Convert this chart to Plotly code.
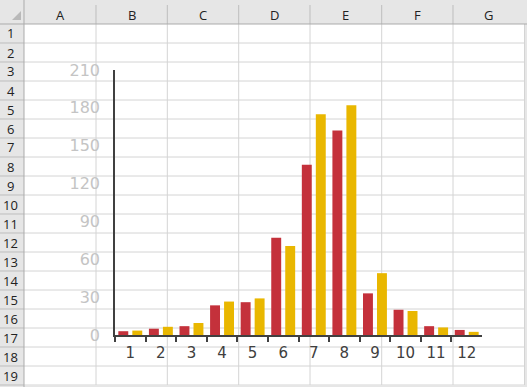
import plotly.graph_objects as go

W, H = 527, 387

categories = ["1", "2", "3", "4", "5", "6", "7", "8", "9", "10", "11", "12"]
series_red = [3, 5, 7, 23.5, 26, 77, 135, 162, 33, 20, 7, 4]
series_yellow = [3.5, 6.5, 9.5, 26.5, 29, 70.5, 175, 182, 49, 19, 6, 2.5]
y_ticks = [0, 30, 60, 90, 120, 150, 180, 210]

col_labels = ["A", "B", "C", "D", "E", "F", "G"]
row_labels = [str(i) for i in range(1, 20)]

RED = "#c4313b"
YELLOW = "#e9b700"


def px(x):
    return x / W


def py(y):
    return 1 - y / H


fig = go.Figure()
fig.add_trace(go.Bar(x=categories, y=series_red, marker=dict(color=RED, line=dict(width=0)),
                     hoverinfo="skip"))
fig.add_trace(go.Bar(x=categories, y=series_yellow, marker=dict(color=YELLOW, line=dict(width=0)),
                     hoverinfo="skip"))

shapes = []
annotations = []

# Spreadsheet background
col_edges = [24, 96, 167.3, 238.7, 310, 381.7, 453, 524.5]
row_top = 24
row_h = 19
grid_color = "#d4d4d4"

for x in col_edges[1:]:
    shapes.append(dict(type="line", xref="paper", yref="paper", x0=px(x), x1=px(x),
                       y0=py(row_top), y1=py(row_top + 19 * row_h),
                       line=dict(color=grid_color, width=1), layer="below"))
for k in range(1, 20):
    y = row_top + k * row_h
    shapes.append(dict(type="line", xref="paper", yref="paper", x0=px(24), x1=px(col_edges[-1]),
                       y0=py(y), y1=py(y), line=dict(color=grid_color, width=1), layer="below"))

# Headers
hdr_fill = "#e6e6e6"
shapes.append(dict(type="rect", xref="paper", yref="paper", x0=0, x1=1, y0=py(24), y1=1,
                   fillcolor=hdr_fill, line=dict(width=0), layer="below"))
shapes.append(dict(type="rect", xref="paper", yref="paper", x0=0, x1=px(24), y0=0, y1=py(24),
                   fillcolor=hdr_fill, line=dict(width=0), layer="below"))
shapes.append(dict(type="rect", xref="paper", yref="paper", x0=0, x1=1, y0=0, y1=py(385),
                   fillcolor=hdr_fill, line=dict(width=0), layer="below"))
shapes.append(dict(type="rect", xref="paper", yref="paper", x0=px(525), x1=1, y0=0, y1=1,
                   fillcolor=hdr_fill, line=dict(width=0), layer="below"))
# header separators
for x in col_edges[1:-1]:
    shapes.append(dict(type="line", xref="paper", yref="paper", x0=px(x), x1=px(x),
                       y0=py(24), y1=py(5), line=dict(color="#bdbdbd", width=1), layer="below"))
for k in range(1, 20):
    y = row_top + k * row_h
    shapes.append(dict(type="line", xref="paper", yref="paper", x0=0, x1=px(24),
                       y0=py(y), y1=py(y), line=dict(color="#bdbdbd", width=1), layer="below"))
shapes.append(dict(type="line", xref="paper", yref="paper", x0=0, x1=1, y0=py(24), y1=py(24),
                   line=dict(color="#ababab", width=1), layer="below"))
shapes.append(dict(type="line", xref="paper", yref="paper", x0=px(24), x1=px(24), y0=0, y1=1,
                   line=dict(color="#ababab", width=1), layer="below"))
# corner triangle
shapes.append(dict(type="path", xref="paper", yref="paper",
                   path=f"M {px(12)} {py(20)} L {px(21)} {py(20)} L {px(21)} {py(11)} Z",
                   fillcolor="#b9b9b9", line=dict(width=0), layer="below"))

hdr_font = dict(family="Open Sans, Noto Sans, sans-serif", size=13, color="#222222")
for i, lab in enumerate(col_labels):
    cx = (col_edges[i] + col_edges[i + 1]) / 2
    annotations.append(dict(text=lab, x=px(cx), y=py(14.5), xref="paper", yref="paper",
                            showarrow=False, font=hdr_font, xanchor="center", yanchor="middle"))
for k, lab in enumerate(row_labels):
    cy = row_top + k * row_h + row_h / 2
    annotations.append(dict(text=lab, x=px(10.5), y=py(cy), xref="paper", yref="paper",
                            showarrow=False, font=hdr_font, xanchor="center", yanchor="middle"))

fig.update_layout(
    width=W, height=H,
    margin=dict(l=0, r=0, t=0, b=0, pad=0, autoexpand=False),
    paper_bgcolor="white",
    plot_bgcolor="rgba(0,0,0,0)",
    showlegend=False,
    barmode="group",
    bargap=0.085,
    bargroupgap=0.29,
    shapes=shapes,
    annotations=annotations,
    xaxis=dict(
        domain=[px(115), px(482)],
        type="category",
        range=[-0.5, 11.5],
        automargin=False,
        showline=True, linecolor="#404040", linewidth=1.5,
        ticks="outside", tickson="boundaries", ticklen=5, tickwidth=1.5, tickcolor="#404040",
        showgrid=False, zeroline=False,
        tickfont=dict(family="DejaVu Sans", size=15, color="#404040"),
        ticklabelstandoff=3,
        fixedrange=True,
    ),
    yaxis=dict(
        domain=[py(335), py(70)],
        range=[0, 210],
        automargin=False,
        tickvals=y_ticks,
        showline=True, linecolor="#404040", linewidth=1.5,
        ticks="", showgrid=False, zeroline=False,
        tickfont=dict(family="DejaVu Sans", size=16, color="#c4c4c4"),
        ticklabelstandoff=10,
        fixedrange=True,
    ),
)

fig.write_html(
    "out.html",
    config={"displayModeBar": False},
    post_script="document.body.style.margin='0';document.body.style.padding='0';"
                "document.documentElement.style.overflow='hidden';",
)
